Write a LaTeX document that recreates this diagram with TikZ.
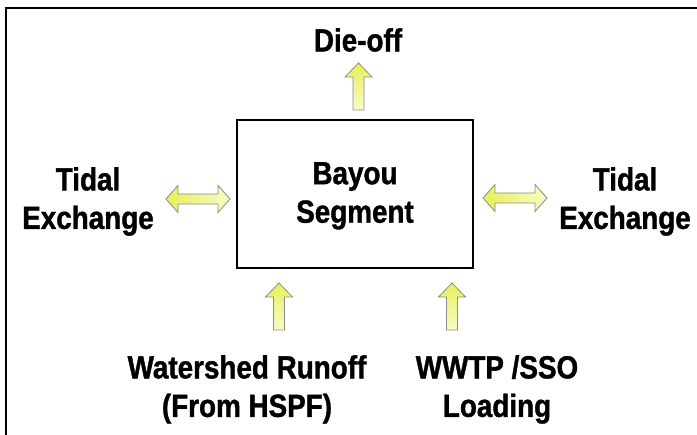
\documentclass[tikz,border=0pt]{standalone}
\usepackage{fontspec}
\setmainfont{Liberation Sans}[FakeStretch=0.87]
\definecolor{arrdark}{HTML}{E6F05A}
\definecolor{arrlight}{HTML}{FAFBC4}
\begin{document}
\begin{tikzpicture}[x=1pt,y=-1pt,
  lbl/.style={anchor=north,inner sep=0pt,align=center,font=\fontsize{32}{38.5}\selectfont\addfontfeature{FakeBold=1.2}\bfseries},
  arrfill/.style={draw=black!45,line width=0.8pt},
  uparr/.pic={\path[arrfill,top color=arrdark,bottom color=arrlight] (0,0) -- (13.5,14) -- (5.5,14) -- (5.5,47) -- (-5.5,47) -- (-5.5,14) -- (-13.5,14) -- cycle;},
  dblarr/.pic={\path[arrfill,left color=arrdark,right color=arrlight] (0,0) -- (12,-13.5) -- (12,-5) -- (52,-5) -- (52,-13.5) -- (64,0) -- (52,13.5) -- (52,5) -- (12,5) -- (12,13.5) -- cycle;}
]
\useasboundingbox (0,0) rectangle (697,435);
\fill[white] (0,0) rectangle (697,435);
% outer frame (only top and left visible)
\draw[line width=2.5pt] (6,435) -- (6,8) -- (697,8);
% central box
\node[draw,line width=2pt,minimum width=236pt,minimum height=148pt,inner sep=0pt] (box) at (355,194) {};
% labels
\node[lbl] (dieoff) at (358,28) {Die-off};
\node[lbl] (seg) at (355,162) {Bayou\\Segment};
\node[lbl] (tidL) at (88,167) {Tidal\\Exchange};
\node[lbl] (tidR) at (625,167) {Tidal\\Exchange};
\node[lbl] (ws) at (247,355) {Watershed Runoff\\(From HSPF)};
\node[lbl] (wwtp) at (497,355) {WWTP /SSO\\Loading};
% block arrows
\pic (a1) at (358.5,63) {uparr};
\pic (a2) at (279,283) {uparr};
\pic (a3) at (452,283) {uparr};
\pic (a4) at (166,199) {dblarr};
\pic (a5) at (483,198) {dblarr};
\end{tikzpicture}
\end{document}
